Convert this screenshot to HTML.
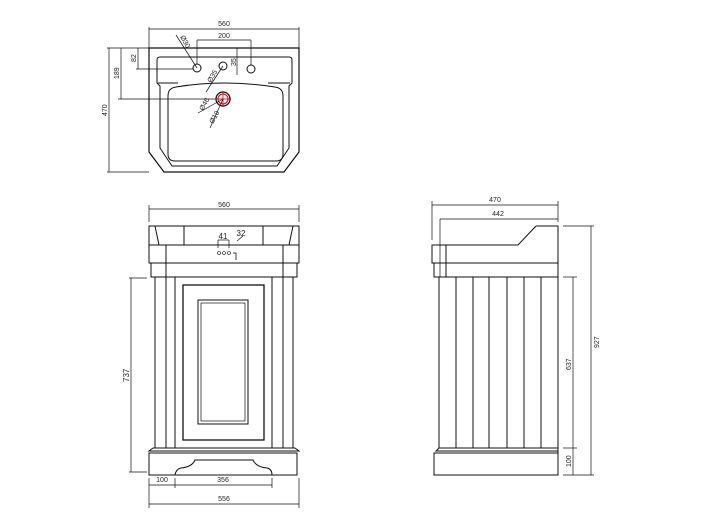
<!DOCTYPE html>
<html><head><meta charset="utf-8"><style>
html,body{margin:0;padding:0;background:#fff;}
svg{display:block;}
text{font-family:"Liberation Sans",sans-serif;font-size:7px;fill:#222;}
</style></head><body>
<svg width="714" height="516" viewBox="0 0 714 516" xmlns="http://www.w3.org/2000/svg">
<g fill="none" stroke="#111" stroke-width="1">
<!-- TOP VIEW -->
<path d="M149,48 L299,48 L299,152 L284,172 L164,172 L149,152 Z" stroke-width="1.2"/>
<path d="M160,57 L289,57 Q292,57 292,60 L292,83 L289,86 L289,148 L277,166 L172,166 L160,148 L160,86 L157,83 L157,60 Q157,57 160,57 Z"/>
<line x1="158" y1="83" x2="178" y2="83"/><line x1="268" y1="83" x2="290" y2="83"/>
<path d="M176,87 Q224,79 275,87 Q283,88 283,96 L283,154 Q283,161 276,161 L175,161 Q168,161 168,154 L168,96 Q168,88 176,87 Z"/>
<circle cx="197" cy="68" r="4"/><circle cx="223" cy="66" r="4"/><circle cx="251" cy="69" r="4"/>
<circle cx="223" cy="99" r="7" stroke-width="1.3"/><circle cx="223" cy="99" r="5" stroke="#c00"/>
<line x1="215" y1="99" x2="231" y2="99" stroke="#c00" stroke-width="0.8"/><line x1="223" y1="91" x2="223" y2="107" stroke="#c00" stroke-width="0.8"/>
<!-- dims top -->
<line x1="149" y1="29" x2="299" y2="29" stroke-width="0.7"/>
<line x1="149" y1="27" x2="149" y2="48" stroke-width="0.7"/><line x1="299" y1="27" x2="299" y2="48" stroke-width="0.7"/>
<line x1="197" y1="40" x2="251" y2="40" stroke-width="0.7"/>
<line x1="197" y1="40" x2="197" y2="64" stroke-width="0.7"/><line x1="251" y1="40" x2="251" y2="65" stroke-width="0.7"/>
<line x1="176" y1="35" x2="197" y2="68" stroke-width="0.7"/>
<line x1="206" y1="92" x2="223" y2="66" stroke-width="0.7"/>
<line x1="237" y1="48" x2="237" y2="75" stroke-width="0.7"/>
<line x1="198" y1="113" x2="223" y2="99" stroke-width="0.7"/>
<line x1="210" y1="128" x2="223" y2="99" stroke-width="0.7"/>
<line x1="107" y1="48" x2="149" y2="48" stroke-width="0.7"/>
<line x1="107" y1="172" x2="149" y2="172" stroke-width="0.7"/>
<line x1="109" y1="48" x2="109" y2="172" stroke-width="0.7"/>
<line x1="121" y1="48" x2="121" y2="99" stroke-width="0.7"/>
<line x1="118" y1="99" x2="215" y2="99" stroke-width="0.7"/>
<line x1="138" y1="48" x2="138" y2="69" stroke-width="0.7"/>
<line x1="136" y1="69" x2="193" y2="69" stroke-width="0.7"/>

<!-- FRONT VIEW -->
<line x1="149" y1="209" x2="299" y2="209" stroke-width="0.7"/>
<line x1="149" y1="205" x2="149" y2="222" stroke-width="0.7"/><line x1="299" y1="205" x2="299" y2="222" stroke-width="0.7"/>
<rect x="149" y="226" width="150" height="19"/>
<line x1="184" y1="226" x2="184" y2="245"/><line x1="263" y1="226" x2="263" y2="245"/>
<line x1="155" y1="226" x2="159" y2="245"/><line x1="293" y1="226" x2="289" y2="245"/>
<rect x="149" y="245" width="150" height="18"/>
<rect x="151" y="263" width="146" height="14"/>
<line x1="166" y1="245" x2="166" y2="448"/><line x1="283" y1="245" x2="283" y2="448"/>
<line x1="155" y1="277" x2="155" y2="448"/><line x1="175" y1="277" x2="175" y2="448"/>
<line x1="272" y1="277" x2="272" y2="448"/><line x1="293" y1="277" x2="293" y2="448"/>
<rect x="183" y="285" width="81" height="155" stroke-width="1.3"/>
<rect x="198" y="300" width="50" height="124"/>
<rect x="201" y="303" width="44" height="118" stroke-width="0.7"/>
<line x1="153" y1="448" x2="295" y2="448"/>
<path d="M153,448 L149,451 L299,451 L295,448"/>
<rect x="149" y="453" width="148" height="22"/>
<path d="M175,475 Q176,469 181,468 Q192,467 195,460 L253,460 Q256,467 267,468 Q272,469 272,475"/>
<line x1="218" y1="248" x2="218" y2="240" stroke-width="0.7"/><line x1="218" y1="240" x2="229" y2="240" stroke-width="0.7"/><line x1="229" y1="240" x2="229" y2="248" stroke-width="0.7"/>
<line x1="237" y1="241" x2="243" y2="236" stroke-width="0.7"/>
<path d="M233,253 L236,253 L236,260" stroke-width="0.8"/>
<circle cx="219" cy="253" r="1.5" stroke-width="0.6"/><circle cx="224" cy="253" r="1.5" stroke-width="0.6"/><circle cx="229" cy="253" r="1.5" stroke-width="0.6"/>
<line x1="131" y1="278" x2="131" y2="472" stroke-width="0.7"/>
<line x1="129" y1="278" x2="147" y2="278" stroke-width="0.7"/><line x1="129" y1="472" x2="147" y2="472" stroke-width="0.7"/>
<line x1="149" y1="478" x2="149" y2="508" stroke-width="0.7"/><line x1="299" y1="478" x2="299" y2="508" stroke-width="0.7"/>
<line x1="175" y1="478" x2="175" y2="488" stroke-width="0.7"/><line x1="272" y1="478" x2="272" y2="488" stroke-width="0.7"/>
<line x1="149" y1="485" x2="272" y2="485" stroke-width="0.7"/>
<line x1="149" y1="504" x2="299" y2="504" stroke-width="0.7"/>

<!-- SIDE VIEW -->
<line x1="432" y1="205" x2="558" y2="205" stroke-width="0.7"/>
<line x1="432" y1="201" x2="432" y2="240" stroke-width="0.7"/><line x1="558" y1="201" x2="558" y2="222" stroke-width="0.7"/>
<line x1="440" y1="219" x2="558" y2="219" stroke-width="0.7"/>
<path d="M536,226 L558,226 L558,475"/>
<path d="M536,226 L518,245 L432,245 L432,263 L558,263"/>
<line x1="446" y1="245" x2="446" y2="277"/>
<path d="M434,263 L434,277 L558,277"/>
<line x1="440" y1="219" x2="440" y2="277" stroke-width="0.7"/>
<g>
<line x1="439" y1="277" x2="439" y2="448"/><line x1="456" y1="277" x2="456" y2="448"/>
<line x1="473" y1="277" x2="473" y2="448"/><line x1="489" y1="277" x2="489" y2="448"/>
<line x1="507" y1="277" x2="507" y2="448"/><line x1="524" y1="277" x2="524" y2="448"/>
<line x1="541" y1="277" x2="541" y2="448"/>
</g>
<line x1="439" y1="448" x2="558" y2="448"/>
<path d="M439,448 L436,451 L558,451"/>
<rect x="434" y="453" width="124" height="22"/>
<line x1="563" y1="226" x2="594" y2="226" stroke-width="0.7"/>
<line x1="563" y1="277" x2="577" y2="277" stroke-width="0.7"/>
<line x1="563" y1="448" x2="577" y2="448" stroke-width="0.7"/>
<line x1="563" y1="475" x2="594" y2="475" stroke-width="0.7"/>
<line x1="591" y1="226" x2="591" y2="475" stroke-width="0.7"/>
<line x1="573" y1="277" x2="573" y2="475" stroke-width="0.7"/>
</g>
<!-- texts -->
<text x="224" y="26" text-anchor="middle">560</text>
<text x="224" y="38" text-anchor="middle">200</text>
<text transform="translate(180,37) rotate(60)">Ø30</text>
<text transform="translate(211,83) rotate(-60)">Ø35</text>
<text transform="translate(236,66) rotate(-90)">35</text>
<text transform="translate(203,111) rotate(-60)">Ø46</text>
<text transform="translate(213,124) rotate(-60)">Ø10</text>
<text transform="translate(136,62) rotate(-90)">82</text>
<text transform="translate(119,79) rotate(-90)">189</text>
<text transform="translate(107,116) rotate(-90)">470</text>
<text x="224" y="207" text-anchor="middle">560</text>
<text x="223" y="239" text-anchor="middle" style="font-size:8px">41</text>
<text x="241" y="236" text-anchor="middle" style="font-size:8px">32</text>
<text transform="translate(129,382) rotate(-90)" style="font-size:8px">737</text>
<text x="162" y="482" text-anchor="middle">100</text>
<text x="223" y="482" text-anchor="middle">356</text>
<text x="224" y="501" text-anchor="middle">556</text>
<text x="495" y="202" text-anchor="middle">470</text>
<text x="498" y="216" text-anchor="middle">442</text>
<text transform="translate(571,370) rotate(-90)">637</text>
<text transform="translate(599,348) rotate(-90)">927</text>
<text transform="translate(571,467) rotate(-90)">100</text>
</svg>
</body></html>
